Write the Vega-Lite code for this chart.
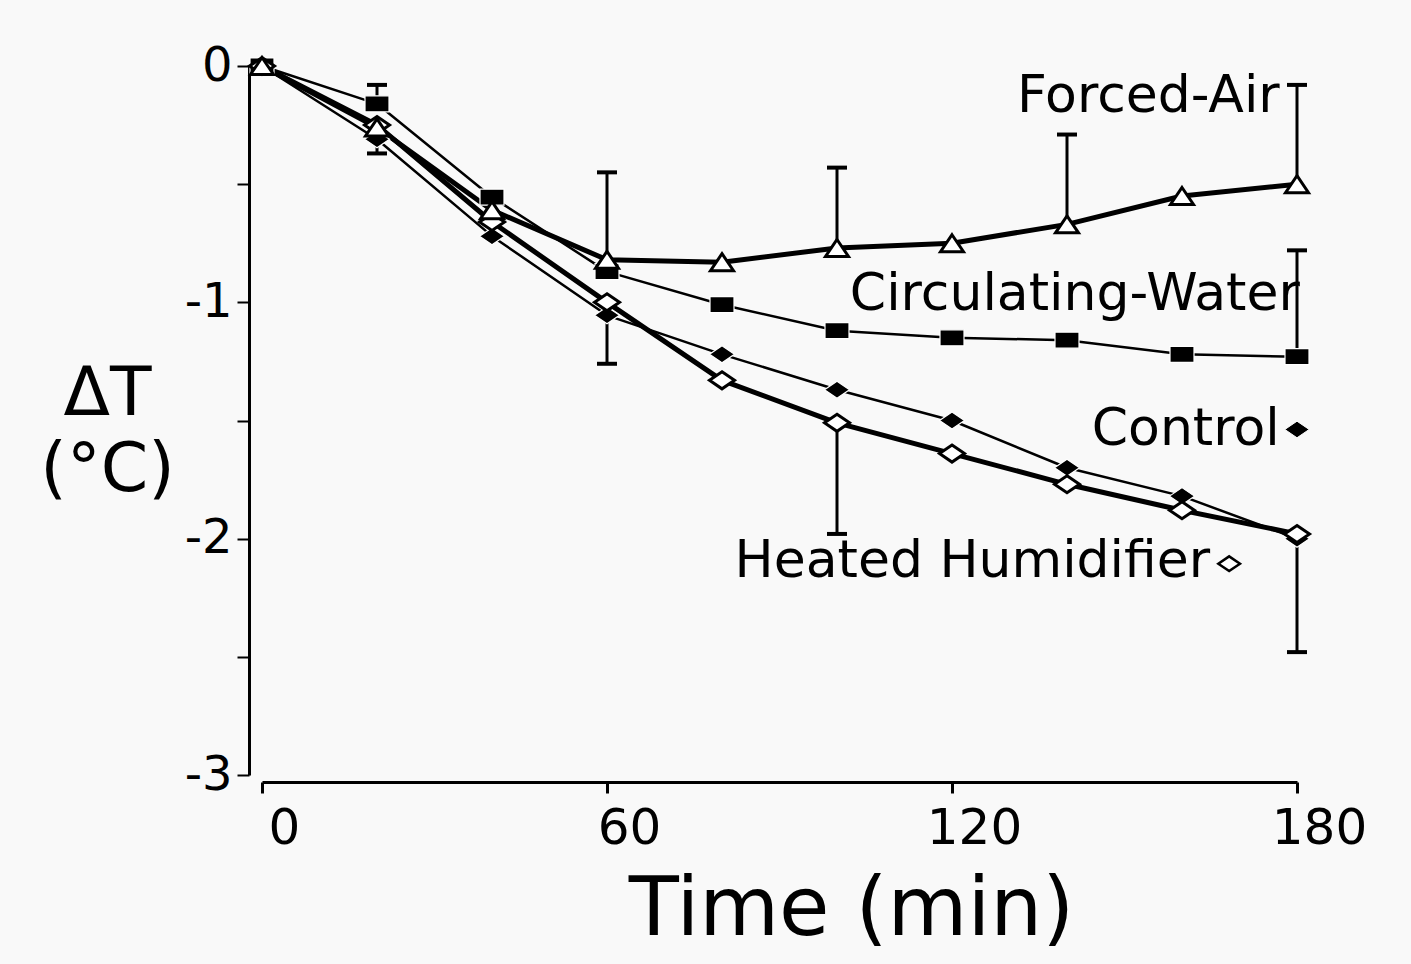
{
  "$schema": "https://vega.github.io/schema/vega-lite/v6.json",
  "width": 1035,
  "height": 709,
  "autosize": {"type": "none"},
  "padding": {"left": 262, "top": 66, "right": 114, "bottom": 189},
  "background": "#f9f9f9",
  "config": {"view": {"stroke": null}, "font": "DejaVu Sans"},
  "datasets": {
    "pts": [
      {"series": "Heated Humidifier", "t": 0, "v": 0},
      {"series": "Heated Humidifier", "t": 20, "v": -0.25},
      {"series": "Heated Humidifier", "t": 40, "v": -0.66},
      {"series": "Heated Humidifier", "t": 60, "v": -1.0},
      {"series": "Heated Humidifier", "t": 80, "v": -1.33},
      {"series": "Heated Humidifier", "t": 100, "v": -1.51, "e": -1.98},
      {"series": "Heated Humidifier", "t": 120, "v": -1.64},
      {"series": "Heated Humidifier", "t": 140, "v": -1.77},
      {"series": "Heated Humidifier", "t": 160, "v": -1.88},
      {"series": "Heated Humidifier", "t": 180, "v": -1.98},
      {"series": "Control", "t": 0, "v": 0},
      {"series": "Control", "t": 20, "v": -0.31, "e": -0.37},
      {"series": "Control", "t": 40, "v": -0.72},
      {"series": "Control", "t": 60, "v": -1.055, "e": -1.26},
      {"series": "Control", "t": 80, "v": -1.22},
      {"series": "Control", "t": 100, "v": -1.37},
      {"series": "Control", "t": 120, "v": -1.5},
      {"series": "Control", "t": 140, "v": -1.7},
      {"series": "Control", "t": 160, "v": -1.82},
      {"series": "Control", "t": 180, "v": -2.0, "e": -2.48},
      {"series": "Circulating-Water", "t": 0, "v": 0},
      {"series": "Circulating-Water", "t": 20, "v": -0.16, "e": -0.08},
      {"series": "Circulating-Water", "t": 40, "v": -0.555},
      {"series": "Circulating-Water", "t": 60, "v": -0.87},
      {"series": "Circulating-Water", "t": 80, "v": -1.01},
      {"series": "Circulating-Water", "t": 100, "v": -1.12},
      {"series": "Circulating-Water", "t": 120, "v": -1.15},
      {"series": "Circulating-Water", "t": 140, "v": -1.16},
      {"series": "Circulating-Water", "t": 160, "v": -1.22},
      {"series": "Circulating-Water", "t": 180, "v": -1.23, "e": -0.78},
      {"series": "Forced-Air", "t": 0, "v": 0},
      {"series": "Forced-Air", "t": 20, "v": -0.26},
      {"series": "Forced-Air", "t": 40, "v": -0.61},
      {"series": "Forced-Air", "t": 60, "v": -0.82, "e": -0.45},
      {"series": "Forced-Air", "t": 80, "v": -0.83},
      {"series": "Forced-Air", "t": 100, "v": -0.77, "e": -0.43},
      {"series": "Forced-Air", "t": 120, "v": -0.75},
      {"series": "Forced-Air", "t": 140, "v": -0.67, "e": -0.29},
      {"series": "Forced-Air", "t": 160, "v": -0.55},
      {"series": "Forced-Air", "t": 180, "v": -0.5, "e": -0.08}
    ],
    "labels": [
      {"label": "Forced-Air", "t": 177, "v": -0.127},
      {"label": "Circulating-Water", "t": 180.5, "v": -0.966},
      {"label": "Control", "t": 177, "v": -1.534},
      {"label": "Heated Humidifier", "t": 164.9, "v": -2.093}
    ],
    "syms": [
      {"series": "Control", "t": 180, "v": -1.538},
      {"series": "Heated Humidifier", "t": 168.2, "v": -2.106}
    ]
  },
  "encoding": {
    "x": {
      "field": "t",
      "type": "quantitative",
      "scale": {"domain": [0, 180], "nice": false, "zero": false},
      "axis": {
        "values": [0, 60, 120, 180],
        "title": "Time (min)",
        "grid": false,
        "offset": 7,
        "domainColor": "black",
        "domainWidth": 3,
        "tickColor": "black",
        "tickWidth": 3,
        "tickSize": 11,
        "labelFontSize": 50,
        "labelColor": "black",
        "labelPadding": 10,
        "labelOffset": 22,
        "labelFlush": false,
        "labelOverlap": false,
        "titleFontSize": 82,
        "titleFontWeight": "normal",
        "titleColor": "black",
        "titleAlign": "center",
        "titleBaseline": "alphabetic",
        "titleX": 589,
        "titleY": 152
      }
    },
    "y": {
      "field": "v",
      "type": "quantitative",
      "title": ["ΔT", "(°C)"],
      "scale": {"domain": [-3, 0], "nice": false, "zero": false},
      "axis": {
        "values": [-3, -2.5, -2, -1.5, -1, -0.5, 0],
        "labelExpr": "datum.value % 1 == 0 ? (datum.value < 0 ? '-' + abs(datum.value) : '0') : ''",
        "grid": false,
        "offset": 13,
        "domainColor": "black",
        "domainWidth": 3,
        "tickColor": "black",
        "tickWidth": 2,
        "tickSize": 12,
        "labelFontSize": 48,
        "labelColor": "black",
        "labelPadding": 5,
        "labelFlush": false,
        "labelOverlap": false,
        "titleAngle": 0,
        "titleFontSize": 68,
        "titleFontWeight": "normal",
        "titleColor": "black",
        "titleAlign": "center",
        "titleBaseline": "alphabetic",
        "titleLineHeight": 76,
        "titleX": -142,
        "titleY": 348
      }
    }
  },
  "layer": [
    {
      "data": {"name": "pts"},
      "transform": [{"filter": "datum.series == 'Control' || datum.series == 'Circulating-Water'"}],
      "mark": {"type": "line", "color": "black", "strokeWidth": 2.5, "strokeJoin": "round"},
      "encoding": {"detail": {"field": "series", "type": "nominal"}}
    },
    {
      "data": {"name": "pts"},
      "transform": [{"filter": "datum.series == 'Heated Humidifier' || datum.series == 'Forced-Air'"}],
      "mark": {"type": "line", "color": "black", "strokeWidth": 5, "strokeJoin": "round"},
      "encoding": {"detail": {"field": "series", "type": "nominal"}}
    },
    {
      "data": {"name": "pts"},
      "transform": [{"filter": "isValid(datum.e)"}],
      "mark": {"type": "rule", "color": "black", "strokeWidth": 3},
      "encoding": {"y2": {"field": "e"}}
    },
    {
      "data": {"name": "pts"},
      "transform": [{"filter": "isValid(datum.e)"}],
      "mark": {"type": "tick", "orient": "horizontal", "color": "black", "size": 20, "thickness": 4, "opacity": 1},
      "encoding": {"y": {"field": "e", "type": "quantitative", "title": ["ΔT", "(°C)"]}}
    },
    {
      "data": {"name": "pts"},
      "transform": [{"filter": "datum.series == 'Control' || datum.series == 'Circulating-Water'"}],
      "mark": {"type": "point", "filled": true, "fill": "black", "stroke": "white", "strokeWidth": 1.2, "size": 400, "opacity": 1},
      "encoding": {
        "shape": {
          "field": "series",
          "type": "nominal",
          "scale": {
            "domain": ["Heated Humidifier", "Control", "Circulating-Water", "Forced-Air"],
            "range": ["M0,-0.85L1.25,0L0,0.85L-1.25,0Z", "M0,-0.85L1.25,0L0,0.85L-1.25,0Z", "M-1.2,-0.8H1.2V0.8H-1.2Z", "M0,-0.85L1.15,0.85L-1.15,0.85Z"]
          },
          "legend": null
        }
      }
    },
    {
      "data": {"name": "pts"},
      "transform": [{"filter": "datum.series == 'Heated Humidifier' || datum.series == 'Forced-Air'"}],
      "mark": {"type": "point", "filled": true, "fill": "white", "stroke": "black", "strokeWidth": 3, "size": 400, "opacity": 1},
      "encoding": {
        "shape": {"field": "series", "type": "nominal", "legend": null}
      }
    },
    {
      "data": {"name": "labels"},
      "mark": {"type": "text", "align": "right", "baseline": "middle", "fontSize": 52, "color": "black", "font": "DejaVu Sans"},
      "encoding": {"text": {"field": "label"}}
    },
    {
      "data": {"name": "syms"},
      "transform": [{"filter": "datum.series == 'Control'"}],
      "mark": {"type": "point", "filled": true, "fill": "black", "stroke": "white", "strokeWidth": 1, "size": 380, "opacity": 1},
      "encoding": {"shape": {"field": "series", "type": "nominal", "legend": null}}
    },
    {
      "data": {"name": "syms"},
      "transform": [{"filter": "datum.series == 'Heated Humidifier'"}],
      "mark": {"type": "point", "filled": true, "fill": "white", "stroke": "black", "strokeWidth": 2.5, "size": 300, "opacity": 1},
      "encoding": {"shape": {"field": "series", "type": "nominal", "legend": null}}
    }
  ]
}
